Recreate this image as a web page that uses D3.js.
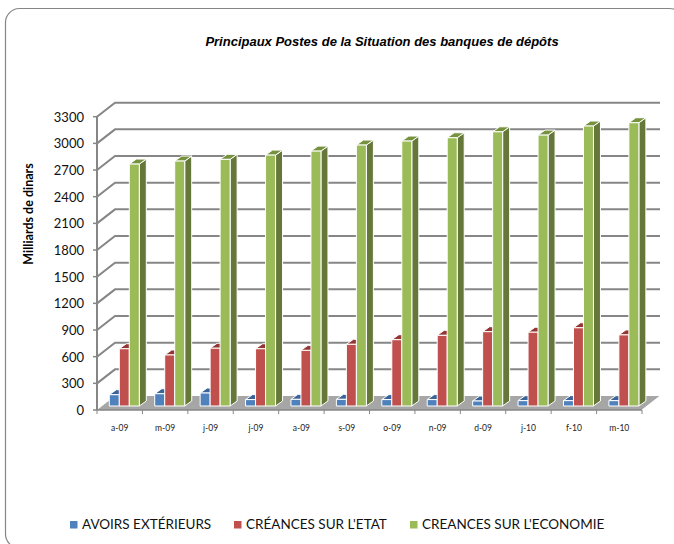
<!DOCTYPE html>
<html><head><meta charset="utf-8">
<script src="https://cdn.jsdelivr.net/npm/d3@7"></script>
<style>html,body{margin:0;padding:0;background:#fff}svg{display:block}</style></head>
<body><svg id="c" width="674" height="544"></svg>
<script>
const categories = ["a-09","m-09","j-09","j-09","a-09","s-09","o-09","n-09","d-09","j-10","f-10","m-10"];
const avoirs = [127,138,146,72,75,75,72,72,56,60,60,60];
const etat = [644,574,650,644,626,694,746,795,836,830,880,800];
const economie = [2722,2756,2775,2823,2868,2936,2981,3018,3085,3048,3150,3187];
const seriesNames = ["AVOIRS EXTÉRIEURS","CRÉANCES SUR L'ETAT","CREANCES SUR L'ECONOMIE"];
const yTicks = d3.range(0,3301,300);
const front = ["#4f81bd","#c0504d","#9bbb59"], side = ["#385d8a","#8c3836","#66773a"], top_ = ["#3a6499","#943634","#76923c"];

const svg = d3.select("#c");
const F = "Lato, 'Open Sans', sans-serif";
svg.append("rect").attr("x",5.5).attr("y",8.5).attr("width",678).attr("height",539.5).attr("rx",14)
  .attr("fill","#fff").attr("stroke","#868686").attr("stroke-width",1.2);
svg.append("text").attr("x",382).attr("y",46).attr("text-anchor","middle")
  .attr("font-family","'Liberation Sans', Arial, sans-serif").attr("font-size",13).attr("font-weight","bold").attr("font-style","italic")
  .attr("fill","#000").text("Principaux Postes de la Situation des banques de dépôts");

const x = d3.scaleBand().domain(d3.range(categories.length)).range([97,642]);
const y = d3.scaleLinear().domain([0,3300]).range([410,116.7]);
const wallDx = 18, wallDy = -14;
const g = "#868686";
// floor
svg.append("polygon").attr("points",[[97,410],[642,410],[642+wallDx,410+wallDy],[97+wallDx,410+wallDy]].join(" ")).attr("fill","#a6a6a6");
// walls
yTicks.forEach(t=>{
  if(t>0) svg.append("polyline").attr("points",[[97,y(t)],[97+wallDx,y(t)+wallDy],[660,y(t)+wallDy]].join(" "))
    .attr("fill","none").attr("stroke",g).attr("stroke-width",2);
  svg.append("line").attr("x1",93).attr("x2",97).attr("y1",y(t)).attr("y2",y(t)).attr("stroke",g).attr("stroke-width",1.5);
  svg.append("text").attr("x",84).attr("y",y(t)+5).attr("text-anchor","end").attr("font-family",F).attr("font-size",13).attr("fill","#111").text(t);
});
svg.append("line").attr("x1",97).attr("x2",97).attr("y1",y(3300)).attr("y2",410).attr("stroke",g).attr("stroke-width",2);
svg.append("line").attr("x1",97).attr("x2",642).attr("y1",410).attr("y2",410).attr("stroke",g).attr("stroke-width",1.5);
svg.append("line").attr("x1",642).attr("x2",660).attr("y1",410).attr("y2",396).attr("stroke","#fff").attr("stroke-width",1);
categories.forEach((c,i)=>{
  svg.append("line").attr("x1",x(i)).attr("x2",x(i)).attr("y1",410).attr("y2",414).attr("stroke",g).attr("stroke-width",1);
  svg.append("text").attr("x",x(i)+x.bandwidth()/2).attr("y",431).attr("text-anchor","middle").attr("font-family",F).attr("font-size",8.5).attr("fill","#222").text(c);
});
svg.append("line").attr("x1",642).attr("x2",642).attr("y1",410).attr("y2",414).attr("stroke",g).attr("stroke-width",1);
svg.append("text").attr("transform","translate(33,214) rotate(-90)").attr("text-anchor","middle")
  .attr("font-family",F).attr("font-size",12.5).attr("font-weight","bold").attr("fill","#000").text("Milliards de dinars");

// bars
const inner = d3.scaleBand().domain([0,1,2]).range([12.3,42.3]);
const bw = inner.bandwidth(), dx = 7, dy = -5, base = 406;
const vy = d3.scaleLinear().domain([0,3300]).range([base, base-(410-116.7)]);
const series = [avoirs,etat,economie];
categories.forEach((c,i)=>{
  series.forEach((vals,s)=>{
    const x0 = x(i)+inner(s), x1 = x0+bw, t = vy(vals[i]);
    const grp = svg.append("g").attr("stroke","#fff").attr("stroke-width",1).attr("stroke-linejoin","round");
    grp.append("polygon").attr("points",[[x1,base],[x1+dx,base+dy],[x1+dx,t+dy],[x1,t]].join(" ")).attr("fill",side[s]);
    grp.append("polygon").attr("points",[[x0,t],[x1,t],[x1+dx,t+dy],[x0+dx,t+dy]].join(" ")).attr("fill",top_[s]);
    grp.append("rect").attr("x",x0).attr("y",t).attr("width",bw).attr("height",base-t).attr("fill",front[s]);
  });
});
// legend
const lx = [70,234,410];
seriesNames.forEach((n,i)=>{
  svg.append("rect").attr("x",lx[i]).attr("y",521).attr("width",7.5).attr("height",7.5).attr("fill",front[i]);
  svg.append("text").attr("x",lx[i]+12).attr("y",529).attr("font-family",F).attr("font-size",13.5).attr("fill","#111").text(n);
});
</script></body></html>
